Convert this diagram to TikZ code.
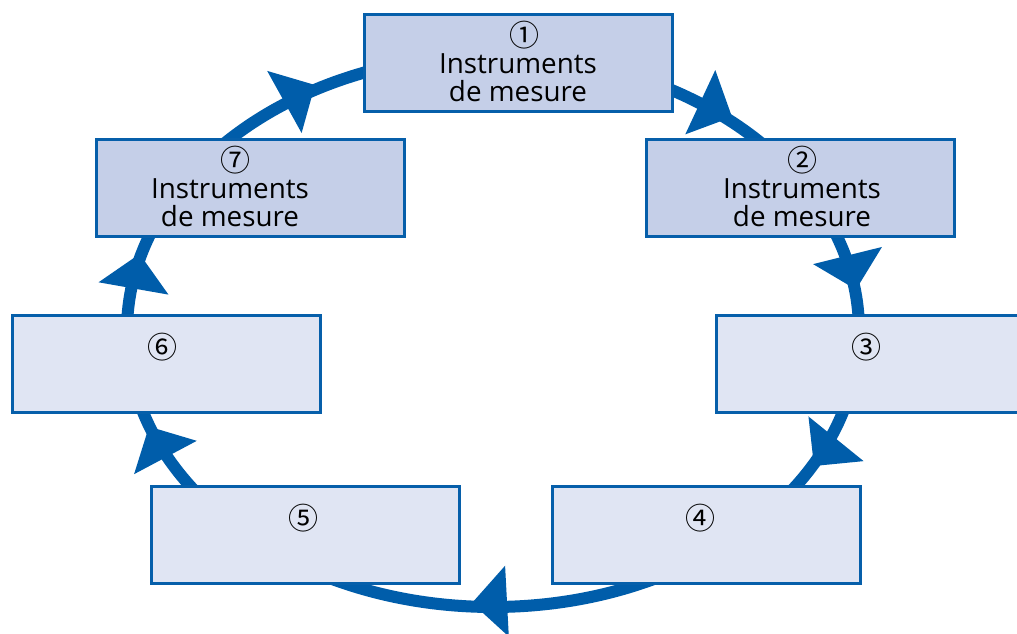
\documentclass[tikz,border=0pt]{standalone}
\usepackage{fontspec}
\setmainfont{Open Sans}
\newfontfamily\numfont{Noto Sans CJK SC}
\definecolor{ringblue}{HTML}{005DAA}
\definecolor{boxline}{HTML}{065FAA}
\definecolor{darkfill}{HTML}{C5CFE8}
\definecolor{lightfill}{HTML}{E0E5F3}
\begin{document}
\begin{tikzpicture}[x=1pt,y=1pt,
  box/.style={draw=boxline, line width=3pt, minimum width=308pt, minimum height=97pt, inner sep=0pt, outer sep=0pt},
  darkbox/.style={box, fill=darkfill},
  lightbox/.style={box, fill=lightfill},
  num/.style={font=\numfont\fontsize{30}{30}\selectfont, inner sep=0pt},
  lbl/.style={font=\fontsize{27.8}{29}\selectfont, inner sep=0pt, anchor=base},
  ringhead/.pic={\fill[ringblue] (0,0) -- (-35,35.5) -- (-35,-35.5) -- cycle;}
]
\useasboundingbox (0,0) rectangle (1017,634);
\fill[white] (0,0) rectangle (1017,634);
\coordinate (c) at (493,303);
\draw[ringblue, line width=12pt] (c) ellipse [x radius=366, y radius=276];
\pic[rotate=29] at (315,549) {ringhead};
\pic[rotate=-25] at (732,517) {ringhead};
\pic[rotate=-76] at (856,344.5) {ringhead};
\pic[rotate=-129] at (814,168) {ringhead};
\pic[rotate=183] at (472,31) {ringhead};
\pic[rotate=118] at (149,207.4) {ringhead};
\pic[rotate=80] at (139.6,380) {ringhead};
% boxes
\node[darkbox] (b1) at (518,570.5) {};
\node[darkbox] (b2) at (800,446) {};
\node[darkbox] (b7) at (250,446) {};
\node[lightbox] (b3) at (870,269.5) {};
\node[lightbox] (b6) at (166,269.5) {};
\node[lightbox] (b5) at (305,98.5) {};
\node[lightbox] (b4) at (706.5,98.5) {};
% text boxes
\node[num] (n1) at ([xshift=6pt,yshift=28pt]b1.center) {①};
\node[lbl] (t1a) at ([yshift=-10.5pt]b1.center) {Instruments};
\node[lbl] (t1b) at ([yshift=-38.5pt]b1.center) {de mesure};
\node[num] (n2) at ([xshift=2pt,yshift=28pt]b2.center) {②};
\node[lbl] (t2a) at ([xshift=2pt,yshift=-10.5pt]b2.center) {Instruments};
\node[lbl] (t2b) at ([xshift=2pt,yshift=-38.5pt]b2.center) {de mesure};
\node[num] (n7) at ([xshift=-15pt,yshift=28pt]b7.center) {⑦};
\node[lbl] (t7a) at ([xshift=-20pt,yshift=-10.5pt]b7.center) {Instruments};
\node[lbl] (t7b) at ([xshift=-20pt,yshift=-38.5pt]b7.center) {de mesure};
% empty boxes
\node[num] (n3) at ([xshift=-4pt,yshift=17.5pt]b3.center) {③};
\node[num] (n6) at ([xshift=-4pt,yshift=17.5pt]b6.center) {⑥};
\node[num] (n5) at ([xshift=-2pt,yshift=17.5pt]b5.center) {⑤};
\node[num] (n4) at ([xshift=-6pt,yshift=17.5pt]b4.center) {④};
\end{tikzpicture}
\end{document}
